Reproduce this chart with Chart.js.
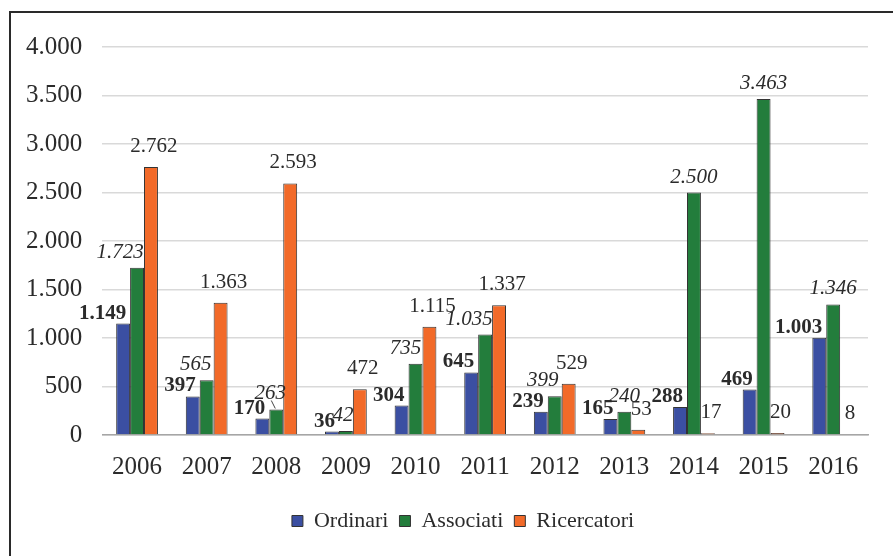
<!DOCTYPE html>
<html>
<head>
<meta charset="utf-8">
<script src="https://cdn.jsdelivr.net/npm/chart.js@4.4.1/dist/chart.umd.min.js"></script>
<style>
    body { margin: 0; background: #fff; overflow: hidden; }
    .wrap { position: relative; width: 893px; height: 556px; }
    .frame { position: absolute; left: 9px; top: 11px; width: 900px; height: 560px; border: 2px solid #2a2a2a; box-sizing: border-box; }
    canvas { position: absolute; left: 0; top: 0; }
</style>
</head>
<body>
<div class="wrap">
    <div class="frame"></div>
    <canvas id="chart" width="893" height="556"></canvas>
</div>
<script>
const anni = ['2006', '2007', '2008', '2009', '2010', '2011', '2012', '2013', '2014', '2015', '2016'];
const ordinari = [1149, 397, 170, 36, 304, 645, 239, 165, 288, 469, 1003];
const associati = [1723, 565, 263, 42, 735, 1035, 399, 240, 2500, 3463, 1346];
const ricercatori = [2762, 1363, 2593, 472, 1115, 1337, 529, 53, 17, 20, 8];
const tickValori = [0, 500, 1000, 1500, 2000, 2500, 3000, 3500, 4000];

const FONT = '"Liberation Serif", "Times New Roman", serif';
const TEXT = '#2b2b2b';

function formatIt(v) {
    return String(v).replace(/\B(?=(\d{3})+(?!\d))/g, '.');
}

// etichette sopra le barre, ognuna con il suo stile come nell'originale
const etichette = {
    id: 'etichette',
    afterDatasetsDraw(chart) {
        const ctx = chart.ctx;
        const spostAssociati = [-17, -11, -6, -3, -10, -16, -12, 0, 0, 0, 0];
        ctx.save();
        ctx.fillStyle = TEXT;
        ctx.textBaseline = 'alphabetic';
        chart.data.datasets.forEach((ds, di) => {
            const meta = chart.getDatasetMeta(di);
            meta.data.forEach((bar, i) => {
                const txt = formatIt(ds.data[i]);
                if (di === 0) {
                    ctx.font = 'bold 21px ' + FONT;
                    ctx.textAlign = 'right';
                    ctx.fillText(txt, bar.x + 3, bar.y - 5);
                } else if (di === 1) {
                    ctx.font = 'italic 21px ' + FONT;
                    ctx.textAlign = 'center';
                    ctx.fillText(txt, bar.x + spostAssociati[i], bar.y - 10);
                    if (i === 2) {
                        ctx.strokeStyle = '#444';
                        ctx.lineWidth = 1;
                        ctx.beginPath();
                        ctx.moveTo(bar.x - 5, bar.y - 9);
                        ctx.lineTo(bar.x - 1, bar.y - 1);
                        ctx.stroke();
                    }
                } else {
                    ctx.font = '21px ' + FONT;
                    ctx.textAlign = 'center';
                    ctx.fillText(txt, bar.x + 3, bar.y - 15);
                }
            });
        });
        ctx.restore();
    }
};

// la legenda dell'originale sta un po' piu a destra
const spostaLegenda = {
    id: 'spostaLegenda',
    afterLayout(chart) {
        chart.legend.left += 26;
        chart.legend.right += 26;
    }
};

const config = {
    type: 'bar',
    data: {
        labels: anni,
        datasets: [
            { label: 'Ordinari', data: ordinari, backgroundColor: '#3b4fa2' },
            { label: 'Associati', data: associati, backgroundColor: '#237d3c' },
            { label: 'Ricercatori', data: ricercatori, backgroundColor: '#f26a29' }
        ].map(d => Object.assign(d, {
            borderColor: '#333',
            borderWidth: 1,
            categoryPercentage: 0.6,
            barPercentage: 1.0
        }))
    },
    options: {
        responsive: false,
        animation: false,
        layout: { padding: { left: 6, right: 25, top: 47, bottom: 14 } },
        scales: {
            y: {
                min: 0,
                max: 4000,
                afterBuildTicks: axis => { axis.ticks = tickValori.map(v => ({ value: v })); },
                border: { display: false },
                grid: { color: '#d9d9d9', lineWidth: 1.5, drawTicks: false },
                ticks: {
                    padding: 20,
                    color: TEXT,
                    font: { family: FONT, size: 25 },
                    callback: v => formatIt(v)
                }
            },
            x: {
                border: { color: '#a6a6a6', width: 1.5 },
                grid: { display: false, drawTicks: false },
                ticks: {
                    padding: 17,
                    color: TEXT,
                    font: { family: FONT, size: 25 }
                }
            }
        },
        plugins: {
            tooltip: { enabled: false },
            legend: {
                position: 'bottom',
                labels: {
                    color: TEXT,
                    font: { family: FONT, size: 22 },
                    boxWidth: 11,
                    boxHeight: 11,
                    padding: 11,
                    generateLabels: chart => chart.data.datasets.map((d, i) => ({
                        text: d.label,
                        fillStyle: d.backgroundColor,
                        strokeStyle: '#333',
                        lineWidth: 1,
                        fontColor: TEXT,
                        datasetIndex: i
                    }))
                }
            }
        }
    },
    plugins: [etichette, spostaLegenda]
};

new Chart(document.getElementById('chart'), config);
</script>
</body>
</html>
